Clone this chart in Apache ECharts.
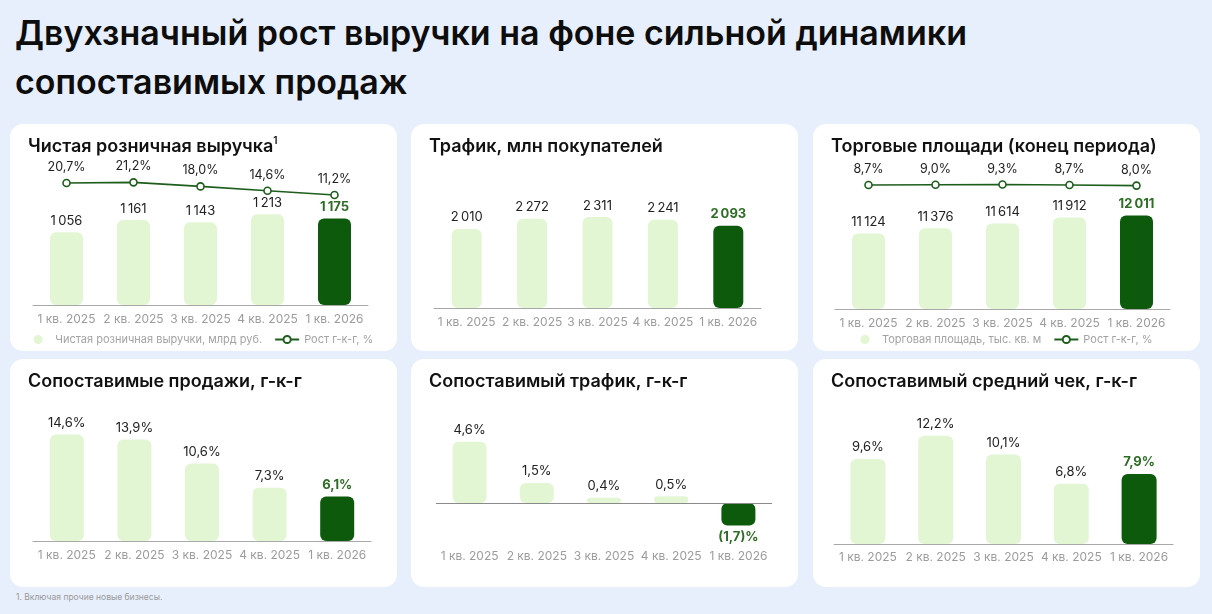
<!DOCTYPE html>
<html>
<head>
<meta charset="utf-8">
<script src="https://cdn.jsdelivr.net/npm/echarts@6/dist/echarts.min.js"></script>
<style>
  html, body { margin: 0; padding: 0; }
  body {
    width: 1212px; height: 614px; overflow: hidden; position: relative;
    background: #e7effc; font-family: Inter, 'Noto Sans', sans-serif;
  }
  h1 {
    position: absolute; left: 15px; top: 8px; margin: 0;
    font-size: 34px; line-height: 49px; font-weight: 600; color: #0d0d0d;
  }
  .panel {
    position: absolute; width: 387px; background: #fff; border-radius: 13px;
  }
  .top { top: 124px; height: 227px; }
  .bottom { top: 359px; height: 228px; }
  .foot {
    position: absolute; left: 16px; top: 592px; font-size: 8.5px; color: #9a9a9a;
  }
</style>
</head>
<body>
<h1>Двухзначный рост выручки на фоне сильной динамики<br>сопоставимых продаж</h1>
<div id="revenue" class="panel top" style="left:10px"></div>
<div id="traffic" class="panel top" style="left:411px"></div>
<div id="space" class="panel top" style="left:813px"></div>
<div id="lflSales" class="panel bottom" style="left:10px"></div>
<div id="lflTraffic" class="panel bottom" style="left:411px"></div>
<div id="lflTicket" class="panel bottom" style="left:813px"></div>
<div class="foot">1. Включая прочие новые бизнесы.</div>
<script>
const quarters = ['1 кв. 2025', '2 кв. 2025', '3 кв. 2025', '4 кв. 2025', '1 кв. 2026']
const revenue = [1056, 1161, 1143, 1213, 1175]
const revenueGrowth = [20.7, 21.2, 18.0, 14.6, 11.2]
const traffic = [2010, 2272, 2311, 2241, 2093]
const space = [11124, 11376, 11614, 11912, 12011]
const spaceGrowth = [8.7, 9.0, 9.3, 8.7, 8.0]
const lflSales = [14.6, 13.9, 10.6, 7.3, 6.1]
const lflTraffic = [4.6, 1.5, 0.4, 0.5, -1.7]
const lflTicket = [9.6, 12.2, 10.1, 6.8, 7.9]

const light = '#e2f6d4'
const dark = '#0e5a0d'
const accent = '#2d6e25'
const lineColor = '#1d5e1c'
const font = 'Inter'

// 1 056 / 20,7% / (1,7)%
const fmtNum = (v) => String(v).replace(/\B(?=(\d{3})+(?!\d))/g, '\u2009')
const fmtPct = (v) => {
  let s = Math.abs(v).toFixed(1).replace('.', ',')
  return v < 0 ? `(${s})%` : `${s}%`
}

function titleOf(text, sup) {
  return {
    text: sup ? `{t|${text}}{s|${sup}}` : `{t|${text}}`,
    left: 13,
    top: 7,
    textStyle: {
      rich: {
        t: { fontFamily: font, fontSize: 18, fontWeight: 600, color: '#111', lineHeight: 22 },
        s: { fontFamily: font, fontSize: 10, fontWeight: 600, color: '#111', lineHeight: 12, verticalAlign: 'top' },
      },
    },
  }
}

function barSeries(name, values, fmt, barWidth) {
  let last = values.length - 1
  return {
    name,
    type: 'bar',
    barWidth,
    xAxisIndex: 0,
    yAxisIndex: 0,
    itemStyle: { color: light, borderRadius: 6 },
    label: {
      show: true,
      position: 'top',
      distance: 5,
      fontFamily: font,
      fontSize: 13,
      color: '#222',
      formatter: (p) => fmt(p.value),
    },
    data: values.map((v, i) =>
      i === last
        ? {
            value: v,
            itemStyle: { color: dark },
            label: { color: accent, fontWeight: 'bold', position: v < 0 ? 'bottom' : 'top' },
          }
        : v,
    ),
  }
}

function growthSeries(name, values) {
  return {
    name,
    type: 'line',
    xAxisIndex: 1,
    yAxisIndex: 1,
    symbol: 'circle',
    symbolSize: 7,
    lineStyle: { color: lineColor, width: 1.6 },
    itemStyle: { color: '#fff', borderColor: lineColor, borderWidth: 1.6 },
    label: {
      show: true,
      position: 'top',
      distance: 5,
      fontFamily: font,
      fontSize: 12.5,
      color: '#222',
      formatter: (p) => fmtPct(p.value),
    },
    data: values,
  }
}

function xAxisOf(gridIndex, margin, showLine) {
  return {
    type: 'category',
    gridIndex,
    data: quarters,
    axisLine: { show: showLine, onZero: false, lineStyle: { color: '#a8a8a8', width: 1 } },
    axisTick: { show: false },
    axisLabel: {
      show: gridIndex === 0,
      interval: 0,
      hideOverlap: false,
      margin,
      fontFamily: font,
      fontSize: 12,
      color: '#9c9c9c',
    },
  }
}

function legendOf(barName, lineName) {
  return {
    bottom: 1,
    left: 'center',
    itemGap: 12,
    itemWidth: 24,
    itemHeight: 9,
    textStyle: { fontFamily: font, fontSize: 11, color: '#a3a3a3' },
    data: [{ name: barName, icon: 'circle' }, { name: lineName }],
  }
}

function render(id, option) {
  let chart = echarts.init(document.getElementById(id))
  chart.setOption(option)
  return chart
}

// Чистая розничная выручка
render('revenue', {
  title: titleOf('Чистая розничная выручка', '1'),
  legend: legendOf('Чистая розничная выручки, млрд руб.', 'Рост г-к-г, %'),
  grid: [
    { left: 23, right: 29, top: 50.4, bottom: 46 },
    { left: 23, right: 29, top: 52.3, height: 24 },
  ],
  xAxis: [xAxisOf(0, 8, true), xAxisOf(1, 0, false)],
  yAxis: [
    { type: 'value', gridIndex: 0, min: 420, max: 1560, show: false },
    { type: 'value', gridIndex: 1, min: 7, max: 26, show: false },
  ],
  series: [
    barSeries('Чистая розничная выручки, млрд руб.', revenue, fmtNum, 33),
    growthSeries('Рост г-к-г, %', revenueGrowth),
  ],
})

// Трафик
render('traffic', {
  title: titleOf('Трафик, млн покупателей'),
  grid: [{ left: 23, right: 37, top: 66, bottom: 43 }],
  xAxis: [xAxisOf(0, 8, true)],
  yAxis: [{ type: 'value', min: 0, max: 3000, show: false }],
  series: [barSeries('Трафик', traffic, fmtNum, 30)],
})

// Торговые площади
render('space', {
  title: titleOf('Торговые площади (конец периода)'),
  legend: legendOf('Торговая площадь, тыс. кв. м', 'Рост г-к-г, %'),
  grid: [
    { left: 22, right: 30, top: 51, bottom: 42 },
    { left: 22, right: 30, top: 44, height: 24 },
  ],
  xAxis: [xAxisOf(0, 8, true), xAxisOf(1, 0, false)],
  yAxis: [
    { type: 'value', gridIndex: 0, min: 7400, max: 14000, show: false },
    { type: 'value', gridIndex: 1, min: 0, max: 30, show: false },
  ],
  series: [
    barSeries('Торговая площадь, тыс. кв. м', space, fmtNum, 33),
    growthSeries('Рост г-к-г, %', spaceGrowth),
  ],
})

// Сопоставимые продажи
render('lflSales', {
  title: titleOf('Сопоставимые продажи, г-к-г'),
  grid: [{ left: 23, right: 26, top: 36, bottom: 46 }],
  xAxis: [xAxisOf(0, 8, true)],
  yAxis: [{ type: 'value', min: 0, max: 20, show: false }],
  series: [barSeries('Сопоставимые продажи', lflSales, fmtPct, 34)],
})

// Сопоставимый трафик
let lflTrafficBars = barSeries('Сопоставимый трафик', lflTraffic, fmtPct, 34)
lflTrafficBars.markLine = {
  silent: true,
  symbol: 'none',
  label: { show: false },
  lineStyle: { color: '#8a8a8a', type: 'solid', width: 1 },
  data: [{ yAxis: 0 }],
}
render('lflTraffic', {
  title: titleOf('Сопоставимый трафик, г-к-г'),
  grid: [{ left: 25, right: 26, top: 77.5, bottom: 57.4 }],
  xAxis: [xAxisOf(0, 21, false)],
  yAxis: [{ type: 'value', min: -2, max: 5, show: false }],
  series: [lflTrafficBars],
})

// Сопоставимый средний чек
render('lflTicket', {
  title: titleOf('Сопоставимый средний чек, г-к-г'),
  grid: [{ left: 21, right: 27, top: 52, bottom: 43 }],
  xAxis: [xAxisOf(0, 7, true)],
  yAxis: [{ type: 'value', min: 0, max: 15, show: false }],
  series: [barSeries('Сопоставимый средний чек', lflTicket, fmtPct, 35)],
})
</script>
</body>
</html>
